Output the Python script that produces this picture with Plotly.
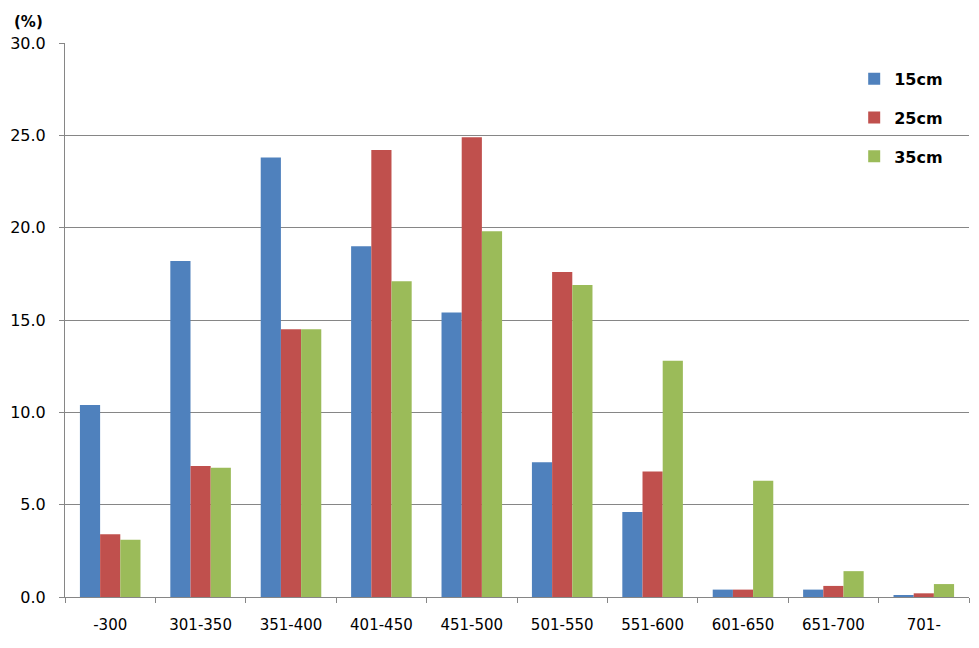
import plotly.graph_objects as go

categories = ["-300", "301-350", "351-400", "401-450", "451-500", "501-550", "551-600", "601-650", "651-700", "701-"]
s15 = [10.4, 18.2, 23.8, 19.0, 15.4, 7.3, 4.6, 0.4, 0.4, 0.1]
s25 = [3.4, 7.1, 14.5, 24.2, 24.9, 17.6, 6.8, 0.4, 0.6, 0.2]
s35 = [3.1, 7.0, 14.5, 17.1, 19.8, 16.9, 12.8, 6.3, 1.4, 0.7]
series_names = ["15cm", "25cm", "35cm"]
colors = ["#4F81BD", "#C0504D", "#9BBB59"]
y_ticks = [0, 5, 10, 15, 20, 25, 30]

fig = go.Figure()
for i, (name, vals) in enumerate(zip(series_names, [s15, s25, s35])):
    fig.add_trace(go.Bar(x=categories, y=vals, name=name, marker_color=colors[i],
                         marker_line_width=0, legendgroup=name))

fig.update_layout(
    width=979, height=648,
    margin=dict(l=63, r=10, t=43, b=51),
    paper_bgcolor="white", plot_bgcolor="white",
    barmode="group", bargap=0.33, bargroupgap=0,
    font=dict(family="DejaVu Sans", size=15, color="black"),
    legend=dict(x=0.873, y=0.966, xanchor="left", yanchor="top",
                font=dict(size=16, family="DejaVu Sans", weight="bold"),
                traceorder="grouped", tracegroupgap=15, itemwidth=30,
                bgcolor="rgba(0,0,0,0)"),
    xaxis=dict(showline=True, linecolor="#868686", linewidth=1,
               ticks="outside", tickson="boundaries", ticklen=5, tickcolor="#868686",
               tickfont=dict(size=15), ticklabelstandoff=14),
    yaxis=dict(range=[0, 30], tickvals=y_ticks, tickformat=".1f",
               showline=True, linecolor="#868686", linewidth=1,
               showgrid=True, gridcolor="#868686", gridwidth=1,
               ticks="outside", ticklen=5, tickcolor="#868686",
               tickfont=dict(size=16), ticklabelstandoff=10, zeroline=False),
    annotations=[dict(text="<b>(%)</b>", xref="paper", yref="paper", x=-0.059, y=1.0,
                      xanchor="left", yanchor="bottom", yshift=10, showarrow=False,
                      font=dict(size=15, family="DejaVu Sans"))],
)

fig.write_html("out.html")
